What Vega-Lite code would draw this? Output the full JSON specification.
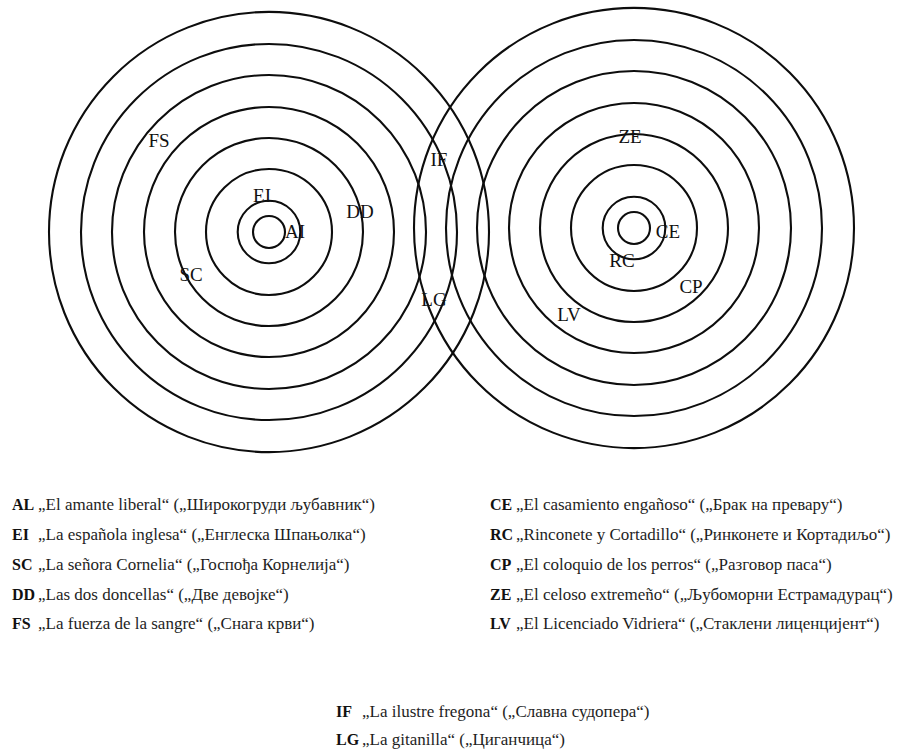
{
  "$schema": "https://vega.github.io/schema/vega-lite/v6.json",
  "width": 897,
  "height": 751,
  "autosize": {"type": "fit", "contains": "padding"},
  "padding": 0,
  "background": "white",
  "config": {"view": {"stroke": null}},
  "datasets": {
    "rings": [
      {"set": "left", "cx": 269, "cy": 232, "r": 16},
      {"set": "left", "cx": 269, "cy": 232, "r": 31.3},
      {"set": "left", "cx": 269, "cy": 232, "r": 63},
      {"set": "left", "cx": 269, "cy": 232, "r": 94},
      {"set": "left", "cx": 269, "cy": 232, "r": 125},
      {"set": "left", "cx": 269, "cy": 232, "r": 157},
      {"set": "left", "cx": 269, "cy": 232, "r": 188},
      {"set": "left", "cx": 269, "cy": 232, "r": 220},
      {"set": "right", "cx": 634, "cy": 228, "r": 16},
      {"set": "right", "cx": 634, "cy": 228, "r": 31.3},
      {"set": "right", "cx": 634, "cy": 228, "r": 63},
      {"set": "right", "cx": 634, "cy": 228, "r": 94},
      {"set": "right", "cx": 634, "cy": 228, "r": 125},
      {"set": "right", "cx": 634, "cy": 228, "r": 157},
      {"set": "right", "cx": 634, "cy": 228, "r": 188},
      {"set": "right", "cx": 634, "cy": 228, "r": 220}
    ],
    "labels": [
      {"label": "FS", "x": 159, "y": 141},
      {"label": "EI", "x": 262, "y": 196},
      {"label": "AI", "x": 295, "y": 232},
      {"label": "DD", "x": 360, "y": 212},
      {"label": "SC", "x": 191, "y": 275},
      {"label": "IF", "x": 439, "y": 160},
      {"label": "LG", "x": 434, "y": 300},
      {"label": "ZE", "x": 630, "y": 137},
      {"label": "CE", "x": 668, "y": 232},
      {"label": "RC", "x": 622, "y": 261},
      {"label": "CP", "x": 691, "y": 287},
      {"label": "LV", "x": 569, "y": 315}
    ],
    "legend": [
      {"code": "AL", "text": "„El amante liberal“ („Широкогруди љубавник“)", "x": 12, "y": 505},
      {"code": "EI", "text": "„La española inglesa“ („Енглеска Шпањолка“)", "x": 12, "y": 535},
      {"code": "SC", "text": "„La señora Cornelia“ („Госпођа Корнелија“)", "x": 12, "y": 565},
      {"code": "DD", "text": "„Las dos doncellas“ („Две девојке“)", "x": 12, "y": 595},
      {"code": "FS", "text": "„La fuerza de la sangre“ („Снага крви“)", "x": 12, "y": 624},
      {"code": "CE", "text": "„El casamiento engañoso“ („Брак на превару“)", "x": 490, "y": 505},
      {"code": "RC", "text": "„Rinconete y Cortadillo“ („Ринконете и Кортадиљо“)", "x": 490, "y": 535},
      {"code": "CP", "text": "„El coloquio de los perros“ („Разговор паса“)", "x": 490, "y": 565},
      {"code": "ZE", "text": "„El celoso extremeño“ („Љубоморни Естрамадурац“)", "x": 490, "y": 595},
      {"code": "LV", "text": "„El Licenciado Vidriera“ („Стаклени лиценцијент“)", "x": 490, "y": 624},
      {"code": "IF", "text": "„La ilustre fregona“ („Славна судопера“)", "x": 336, "y": 712},
      {"code": "LG", "text": "„La gitanilla“ („Циганчица“)", "x": 336, "y": 740}
    ]
  },
  "encoding": {
    "x": {"field": "x", "type": "quantitative", "scale": {"domain": [0, 897], "nice": false, "zero": false}, "axis": null},
    "y": {"field": "y", "type": "quantitative", "scale": {"domain": [0, 751], "nice": false, "zero": false, "reverse": true}, "axis": null}
  },
  "layer": [
    {
      "data": {"name": "rings"},
      "mark": {"type": "point", "shape": "circle", "filled": false, "stroke": "#0d0d0d", "strokeWidth": 2.1, "opacity": 1},
      "encoding": {
        "x": {"field": "cx", "type": "quantitative"},
        "y": {"field": "cy", "type": "quantitative"},
        "size": {"field": "r", "type": "quantitative", "scale": {"type": "pow", "exponent": 2, "domain": [0, 250], "range": [0, 250000]}, "legend": null}
      }
    },
    {
      "data": {"name": "labels"},
      "mark": {"type": "text", "font": "Liberation Serif", "fontSize": 19, "color": "#111111", "align": "center", "baseline": "middle"},
      "encoding": {"text": {"field": "label"}}
    },
    {
      "data": {"name": "legend"},
      "mark": {"type": "text", "font": "Liberation Serif", "fontSize": 16, "fontWeight": "bold", "color": "#111111", "align": "left", "baseline": "middle"},
      "encoding": {"text": {"field": "code"}}
    },
    {
      "data": {"name": "legend"},
      "mark": {"type": "text", "font": "Liberation Serif", "fontSize": 17, "color": "#1e1e1e", "align": "left", "baseline": "middle", "dx": 26},
      "encoding": {"text": {"field": "text"}}
    }
  ]
}
